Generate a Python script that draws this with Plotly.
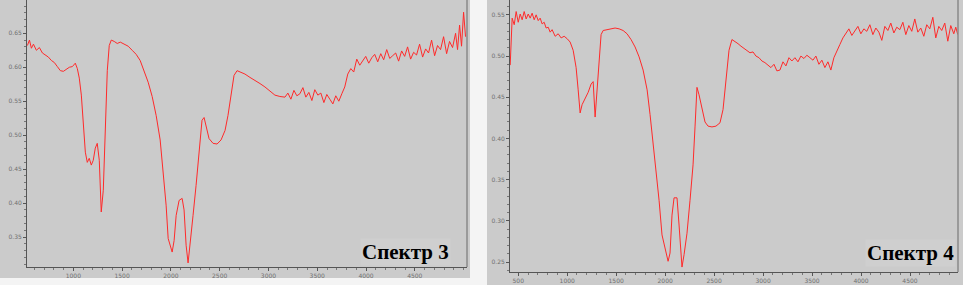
import plotly.graph_objects as go

# ---------------- data ----------------
left_x = [529, 550, 570, 591, 621, 652, 683, 713, 744, 775, 805, 836, 867, 898, 928, 959, 990, 1020,
          1041, 1061, 1082, 1102, 1123, 1143, 1163, 1184, 1204, 1225, 1245, 1266, 1286, 1307, 1327, 1348, 1368, 1389,
          1419, 1450, 1481,
          1522, 1562, 1603, 1644, 1685, 1726, 1767, 1808, 1849, 1890,
          1920, 1951,
          1972, 1992, 2013, 2033, 2054,
          2084, 2115,
          2135, 2156, 2176, 2197,
          2227, 2258, 2289, 2319,
          2340, 2360,
          2391,
          2432, 2473, 2514, 2555,
          2585, 2616, 2647, 2678,
          2719, 2759,
          2811, 2862, 2913, 2964, 3015, 3066, 3117, 3169,
          3199, 3230, 3261, 3291, 3322, 3353, 3383, 3414, 3445, 3475, 3506, 3537, 3568, 3598, 3629, 3660, 3690,
          3721, 3752, 3782, 3813, 3844, 3874, 3905, 3936, 3966, 3997, 4028, 4059, 4089, 4120, 4151, 4181, 4212,
          4243, 4273, 4304, 4334, 4365, 4396, 4426, 4457, 4488, 4518, 4549, 4580, 4611, 4641, 4672, 4703, 4733,
          4764, 4795, 4826, 4856, 4887, 4918,
          4938, 4959, 4979, 5000, 5020]
left_y = [0.632, 0.640, 0.628, 0.634, 0.625, 0.629, 0.621, 0.618, 0.615, 0.610, 0.607, 0.601, 0.595, 0.594,
          0.597, 0.600, 0.601, 0.606,
          0.598, 0.584, 0.559, 0.515, 0.475, 0.460, 0.466, 0.456, 0.463, 0.481, 0.488, 0.463, 0.387, 0.419,
          0.522, 0.595, 0.632, 0.640,
          0.638, 0.635, 0.637,
          0.634, 0.631, 0.625, 0.619, 0.610, 0.595, 0.578, 0.557, 0.529, 0.493,
          0.448, 0.397,
          0.348, 0.338, 0.328, 0.345, 0.382,
          0.404, 0.407,
          0.390, 0.338, 0.312, 0.338,
          0.382, 0.426, 0.478, 0.522,
          0.526, 0.515,
          0.495,
          0.488, 0.487, 0.493, 0.507,
          0.529, 0.559, 0.588, 0.595,
          0.593, 0.590,
          0.585, 0.581, 0.576, 0.571, 0.565, 0.559, 0.557, 0.556,
          0.562, 0.553, 0.566, 0.558, 0.561, 0.570, 0.556, 0.563, 0.551, 0.567, 0.559, 0.562, 0.548, 0.560,
          0.553, 0.546, 0.558, 0.550, 0.561,
          0.571, 0.590, 0.598, 0.593, 0.612, 0.603, 0.609, 0.616, 0.606, 0.614, 0.619, 0.608, 0.620, 0.611,
          0.626, 0.613, 0.617, 0.621, 0.609, 0.624, 0.616, 0.630, 0.612, 0.622, 0.618, 0.634, 0.615, 0.627,
          0.621, 0.640, 0.617, 0.632, 0.626, 0.645, 0.620, 0.638, 0.629, 0.650,
          0.626, 0.662, 0.631, 0.681, 0.645]

right_x = [418, 428, 438, 459, 479, 500, 520, 540, 561, 581, 602, 622, 642, 663, 683, 704, 724, 744, 765, 785,
           806, 826, 846, 877, 908, 938, 969, 1000, 1030, 1061, 1091, 1112, 1132, 1152, 1183, 1214, 1244, 1265,
           1285, 1305, 1326, 1346, 1367, 1407, 1448, 1489, 1530, 1571, 1611, 1652, 1693, 1734, 1775, 1816, 1846,
           1877, 1907, 1938, 1968, 1999, 2019, 2030, 2050, 2070, 2091, 2121, 2142, 2162, 2172, 2193, 2223, 2254,
           2285, 2305, 2325, 2346, 2376, 2407, 2438, 2478, 2519, 2560, 2591, 2621, 2652, 2682, 2713, 2744, 2774,
           2805, 2835, 2866, 2897, 2927, 2958, 2988, 3019, 3050, 3080, 3111, 3141, 3172, 3203, 3233, 3264, 3294,
           3325, 3356, 3386, 3417, 3447, 3478, 3509, 3539, 3570, 3600, 3631, 3662, 3692, 3723, 3753, 3784, 3815,
           3845, 3876, 3906, 3937, 3968, 3998, 4029, 4059, 4090, 4121, 4151, 4182, 4212, 4243, 4274, 4304, 4335,
           4365, 4396, 4427, 4457, 4488, 4518, 4549, 4580, 4610, 4641, 4671, 4702, 4733, 4763, 4794, 4824, 4855,
           4886, 4916, 4947, 4967, 4988]
right_y = [0.489, 0.532, 0.546, 0.538, 0.554, 0.541, 0.551, 0.544, 0.554, 0.545, 0.551, 0.546, 0.552, 0.544,
           0.550, 0.543, 0.546, 0.539, 0.541, 0.534, 0.535, 0.529, 0.532, 0.524, 0.527, 0.522, 0.524, 0.521,
           0.517, 0.507, 0.486, 0.459, 0.431, 0.441, 0.449, 0.456, 0.466, 0.469, 0.426, 0.459, 0.501, 0.526,
           0.531, 0.532, 0.533, 0.534, 0.533, 0.531, 0.527, 0.520, 0.511, 0.499, 0.483, 0.459, 0.429, 0.395,
           0.362, 0.325, 0.283, 0.265, 0.256, 0.251, 0.261, 0.307, 0.328, 0.328, 0.295, 0.255, 0.244, 0.259,
           0.285, 0.325, 0.368, 0.414, 0.462, 0.453, 0.435, 0.420, 0.415, 0.414, 0.415, 0.419, 0.435, 0.471,
           0.507, 0.520, 0.518, 0.515, 0.512, 0.509, 0.507, 0.504, 0.505, 0.500, 0.498, 0.494, 0.492, 0.489,
           0.486, 0.490, 0.482, 0.483, 0.493, 0.488, 0.498, 0.494, 0.498, 0.493, 0.500, 0.497, 0.501, 0.498,
           0.495, 0.500, 0.490, 0.495, 0.486, 0.493, 0.483, 0.498,
           0.505, 0.514, 0.522, 0.528, 0.533, 0.525, 0.531, 0.536, 0.527, 0.533, 0.530, 0.538, 0.526, 0.534,
           0.529, 0.519, 0.536, 0.531, 0.540, 0.528, 0.535, 0.532, 0.541, 0.526, 0.537, 0.530, 0.545, 0.529,
           0.534, 0.524, 0.538, 0.533, 0.547, 0.522, 0.536, 0.531, 0.540, 0.518, 0.537, 0.527, 0.535, 0.526]

left_x_ticks = [1000, 1500, 2000, 2500, 3000, 3500, 4000, 4500]
right_x_ticks = [500, 1000, 1500, 2000, 2500, 3000, 3500, 4000, 4500]
left_y_ticks = [0.35, 0.40, 0.45, 0.50, 0.55, 0.60, 0.65]
right_y_ticks = [0.25, 0.30, 0.35, 0.40, 0.45, 0.50, 0.55]
panel_labels = ["Спектр 3", "Спектр 4"]

assert len(left_x) == len(left_y) and len(right_x) == len(right_y)

W, H = 963, 285
PLOT_BG = "#c5c5c5"
PANEL_BG = "#cbcbcb"
LINE = "#ff2a2a"

fig = go.Figure()
fig.add_trace(go.Scatter(x=left_x, y=left_y, mode="lines", line=dict(color=LINE, width=1),
                         xaxis="x", yaxis="y", showlegend=False))
fig.add_trace(go.Scatter(x=right_x, y=right_y, mode="lines", line=dict(color=LINE, width=1),
                         xaxis="x2", yaxis="y2", showlegend=False))

tickfont = dict(family="DejaVu Sans", size=6, color="#707070")

def xax(domain, rng, ticks, anchor):
    return dict(domain=domain, range=rng, anchor=anchor, tickvals=ticks, ticktext=[str(t) for t in ticks],
                automargin=False,
                showgrid=False, zeroline=False, showline=True, linecolor="#555555", linewidth=1,
                ticks="outside", ticklen=3, tickcolor="#555555", tickfont=tickfont,
                minor=dict(ticks="outside", ticklen=2, tickcolor="#777777", nticks=10))

def yax(domain, rng, ticks, anchor):
    return dict(domain=domain, range=rng, anchor=anchor, tickvals=ticks,
                ticktext=["%.2f" % t for t in ticks], automargin=False,
                showgrid=False, zeroline=False, showline=True, linecolor="#555555", linewidth=1,
                ticks="outside", ticklen=3, tickcolor="#555555", tickfont=tickfont,
                minor=dict(ticks="outside", ticklen=2, tickcolor="#777777", nticks=10))

fig.update_layout(
    width=W, height=H, margin=dict(l=0, r=0, t=0, b=0, autoexpand=False),
    paper_bgcolor="#f4f4f4", plot_bgcolor=PLOT_BG,
    xaxis=xax([27 / W, 467 / W], [525, 5035], left_x_ticks, "y"),
    yaxis=yax([18 / H, 1.0], [0.306, 0.699], left_y_ticks, "x"),
    xaxis2=xax([510 / W, 958 / W], [416, 4990], right_x_ticks, "y2"),
    yaxis2=yax([13 / H, 1.0], [0.238, 0.568], right_y_ticks, "x2"),
    shapes=[
        dict(type="rect", xref="paper", yref="paper", x0=0, x1=470 / W, y0=7 / H, y1=1,
             fillcolor=PANEL_BG, line=dict(width=0), layer="below"),
        dict(type="rect", xref="paper", yref="paper", x0=487 / W, x1=1, y0=0, y1=1,
             fillcolor=PANEL_BG, line=dict(width=0), layer="below"),
        dict(type="line", xref="paper", yref="paper", x0=467 / W, x1=467 / W, y0=18 / H, y1=1,
             line=dict(color="#8a8a8a", width=1.5)),
        dict(type="line", xref="paper", yref="paper", x0=958 / W, x1=958 / W, y0=13 / H, y1=1,
             line=dict(color="#8a8a8a", width=1.5)),
    ],
    annotations=[
        dict(text=panel_labels[0], xref="paper", yref="paper", x=405 / W, y=(H - 252) / H,
             showarrow=False, xanchor="center", yanchor="middle", bgcolor="#cfcfcf",
             font=dict(family="Liberation Serif", size=21, color="#000000", weight="bold")),
        dict(text=panel_labels[1], xref="paper", yref="paper", x=910 / W, y=(H - 253) / H,
             showarrow=False, xanchor="center", yanchor="middle", bgcolor="#cfcfcf",
             font=dict(family="Liberation Serif", size=21, color="#000000", weight="bold")),
    ],
)

fig.write_html("out.html", config={"displayModeBar": False},
               post_script="document.body.style.margin='0';document.body.style.overflow='hidden';")
